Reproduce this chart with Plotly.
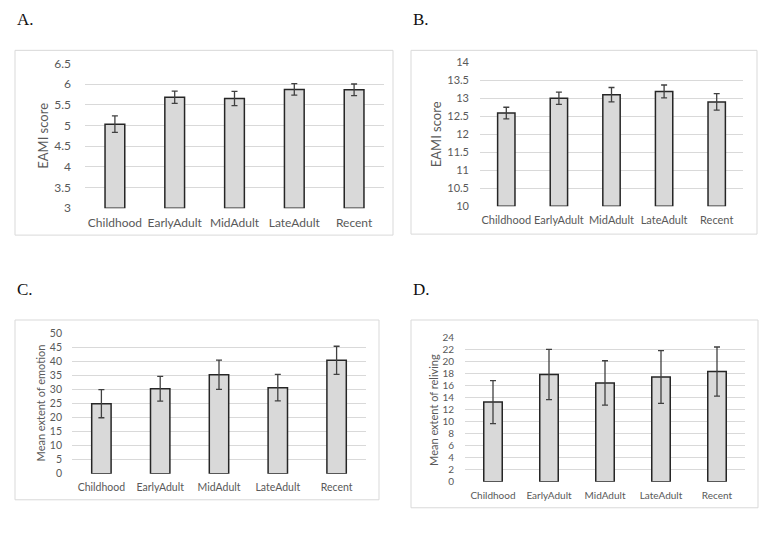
import plotly.graph_objects as go

W, H = 767, 551

categories = ["Childhood", "EarlyAdult", "MidAdult", "LateAdult", "Recent"]

a_values = [5.03, 5.68, 5.65, 5.87, 5.86]
a_errors = [0.20, 0.15, 0.17, 0.14, 0.14]

b_values = [12.59, 13.00, 13.10, 13.19, 12.90]
b_errors = [0.16, 0.17, 0.20, 0.18, 0.23]

c_values = [24.9, 30.2, 35.2, 30.6, 40.3]
c_errors = [5.0, 4.4, 5.2, 4.7, 5.0]

d_values = [13.3, 17.9, 16.5, 17.5, 18.4]
d_errors = [3.6, 4.2, 3.7, 4.4, 4.1]

a_ticks = [3, 3.5, 4, 4.5, 5, 5.5, 6, 6.5]
b_ticks = [10, 10.5, 11, 11.5, 12, 12.5, 13, 13.5, 14]
c_ticks = list(range(0, 55, 5))
d_ticks = list(range(0, 26, 2))


def py(r):
    # vertical pixel (as seen in the photographed page) -> layout pixel
    return (r - 6.6) / 0.974


# panel geometry in pixels: plot left, right, top, bottom
panels = [
    dict(key="A", vals=a_values, errs=a_errors, ticks=a_ticks, rng=[3, 6.5],
         plot=(85, 384, 62, 207), box=(15, 49, 393, 234), lab=(15, 18),
         title="EAMI score", tx=43, fs=12, tfs=13, std=(13, 6)),
    dict(key="B", vals=b_values, errs=b_errors, ticks=b_ticks, rng=[10, 14],
         plot=(480, 743, 61, 205), box=(411, 49, 757, 233), lab=(411, 18),
         title="EAMI score", tx=436, fs=11, tfs=13, std=(10, 6)),
    dict(key="C", vals=c_values, errs=c_errors, ticks=c_ticks, rng=[0, 50],
         plot=(72, 366, 332, 473), box=(15, 319, 379, 499), lab=(15, 288),
         title="Mean extent of emotion", tx=40, fs=10.5, tfs=11, std=(9, 6)),
    dict(key="D", vals=d_values, errs=d_errors, ticks=d_ticks, rng=[0, 24],
         plot=(465, 745, 337, 481), box=(411, 319, 758, 507), lab=(411, 288),
         title="Mean extent of reliving", tx=434, fs=10, tfs=11, std=(10, 6)),
]

fig = go.Figure()
shapes = []
annotations = []
layout_axes = {}

FONT = "Lato, Open Sans, sans-serif"

for i, p in enumerate(panels, start=1):
    xl, xr, yt, yb = p["plot"]
    yt, yb = py(yt), py(yb)
    xa = "x" if i == 1 else f"x{i}"
    ya = "y" if i == 1 else f"y{i}"
    fig.add_trace(go.Bar(
        x=categories, y=[v - p["rng"][0] for v in p["vals"]],
        base=p["rng"][0],
        xaxis=xa, yaxis=ya,
        marker=dict(color="#d9d9d9", line=dict(color="#262626", width=1.5)),
        error_y=dict(type="data", array=p["errs"], visible=True,
                     color="#404040", thickness=1.3, width=3),
        showlegend=False, hoverinfo="skip",
    ))
    xkey = "xaxis" if i == 1 else f"xaxis{i}"
    ykey = "yaxis" if i == 1 else f"yaxis{i}"
    layout_axes[xkey] = dict(
        domain=[xl / W, xr / W], anchor=ya,
        showgrid=False, showline=False, zeroline=False, ticks="",
        tickfont=dict(family=FONT, size=p["fs"], color="#595959"),
        ticklabelstandoff=p["std"][1],
    )
    layout_axes[ykey] = dict(
        domain=[1 - yb / H, 1 - yt / H], anchor=xa,
        range=p["rng"], tickvals=p["ticks"],
        showgrid=True, gridcolor="#d9d9d9", gridwidth=1,
        showline=False, zeroline=False, ticks="",
        tickfont=dict(family=FONT, size=p["fs"], color="#595959"),
        ticklabelstandoff=p["std"][0],
    )
    bx0, by0, bx1, by1 = p["box"]
    by0, by1 = py(by0), py(by1)
    shapes.append(dict(type="rect", xref="paper", yref="paper",
                       x0=bx0 / W, x1=bx1 / W, y0=1 - by1 / H, y1=1 - by0 / H,
                       line=dict(color="#d9d9d9", width=1), fillcolor="rgba(0,0,0,0)",
                       layer="below"))
    lx, ly = p["lab"]
    annotations.append(dict(text=p["key"] + ".", xref="paper", yref="paper",
                            x=lx / W, y=1 - py(ly) / H, xanchor="left", yanchor="middle",
                            showarrow=False,
                            font=dict(family="Liberation Serif, serif", size=17, color="#111111")))
    annotations.append(dict(text=p["title"], xref="paper", yref="paper",
                            x=p["tx"] / W, y=1 - (yt + yb) / 2 / H,
                            xanchor="center", yanchor="middle", textangle=-90,
                            showarrow=False,
                            font=dict(family=FONT, size=p["tfs"], color="#595959")))

fig.update_layout(
    width=W, height=H,
    margin=dict(l=0, r=0, t=0, b=0),
    paper_bgcolor="white", plot_bgcolor="white",
    bargap=0.67,
    shapes=shapes, annotations=annotations,
    **layout_axes,
)

fig.write_html(
    "out.html",
    config={"displayModeBar": False},
    post_script=(
        "document.documentElement.style.margin='0';"
        "document.documentElement.style.padding='0';"
        "document.documentElement.style.overflow='hidden';"
        "document.body.style.margin='0';"
        "document.body.style.padding='0';"
        "document.body.style.overflow='hidden';"
        "var g=document.getElementById('{plot_id}');"
        "g.style.position='fixed';g.style.top='0px';g.style.left='0px';"
    ),
)
